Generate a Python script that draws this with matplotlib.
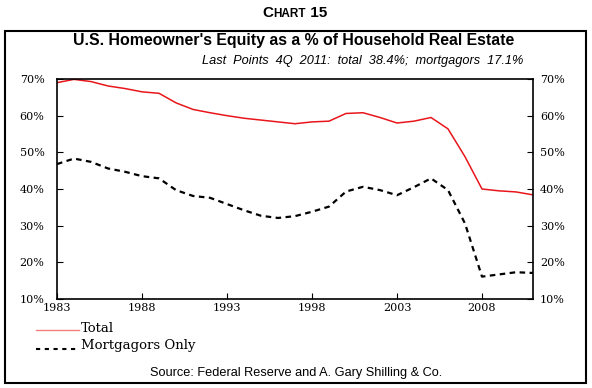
import matplotlib
matplotlib.use("Agg")
import matplotlib.pyplot as plt
from matplotlib.patches import Rectangle
from matplotlib.lines import Line2D
from matplotlib.text import Annotation
from matplotlib.transforms import ScaledTranslation

years = list(range(1983, 2012))
total = [69.0, 69.9, 69.3, 68.1, 67.4, 66.5, 66.1, 63.5, 61.7, 60.8,
         60.0, 59.3, 58.8, 58.3, 57.8, 58.3, 58.5, 60.6, 60.8, 59.5,
         58.0, 58.5, 59.5, 56.4, 48.8, 40.0, 39.5, 39.2, 38.4]
mortgagors = [46.8, 48.3, 47.4, 45.6, 44.7, 43.5, 42.9, 39.7, 38.1, 37.6,
              35.9, 34.2, 32.7, 32.1, 32.6, 33.8, 35.2, 39.3, 40.6, 39.7,
              38.3, 40.5, 42.9, 39.7, 30.6, 16.1, 16.7, 17.3, 17.1]
x_ticks = [1983, 1988, 1993, 1998, 2003, 2008]
y_ticks = [10, 20, 30, 40, 50, 60, 70]

SERIF = "DejaVu Serif"
SANS = "Liberation Sans"

W, H = 592, 388


def fx(px):
    return px / W


def fy(py):
    return 1 - py / H


fig = plt.figure(figsize=(5.92, 3.88), dpi=100)

# outer frame
fig.patches.append(Rectangle((fx(5), fy(383)), 581 / W, 352 / H,
                             transform=fig.transFigure, fill=False,
                             edgecolor="black", linewidth=1.5))

# "CHART 15" in small caps, built from three pieces
c = fig.text(fx(262), fy(20), "C", fontsize=11, fontweight="bold",
             family=SANS, va="bottom", ha="left")
hart = fig.add_artist(Annotation("HART", xy=(1, 0), xycoords=c, va="bottom", ha="left",
                                 fontsize=8.5, fontweight="bold", family=SANS))
fig.add_artist(Annotation(" 15", xy=(1, 0), xycoords=hart, va="bottom", ha="left",
                          fontsize=11, fontweight="bold", family=SANS))

fig.text(fx(294), fy(41), "U.S. Homeowner's Equity as a % of Household Real Estate",
         fontsize=11.4, fontweight="bold", family=SANS, ha="center", va="center")
fig.text(fx(523), fy(61),
         "Last  Points  4Q  2011:  total  38.4%;  mortgagors  17.1%",
         fontsize=9.2, style="italic", family=SANS, ha="right", va="center")

ax = fig.add_axes([fx(57), fy(299), 476 / W, 220 / H])
ax.plot(years, total, color="#e8161b", lw=1.1)
ax.plot(years, mortgagors, color="black", lw=1.6, linestyle=(0, (2.5, 2)))
ax.set_xlim(1983, 2011)
ax.set_ylim(10, 70)
ax.set_xticks(x_ticks)
ax.set_xticklabels([str(x) for x in x_ticks], family=SERIF, fontsize=8)
ax.set_yticks(y_ticks)
ax.set_yticklabels([f"{v}%" for v in y_ticks], family=SERIF, fontsize=8)
for s in ax.spines.values():
    s.set_linewidth(1.2)
ax.tick_params(axis="y", direction="in", length=4, width=0.8, pad=9,
               left=True, right=True, labelleft=True, labelright=True)
ax.tick_params(axis="x", direction="in", length=4, width=0.8, pad=3)
# right-hand labels sit closer to the axis
for t in ax.yaxis.get_major_ticks():
    t.label2.set_fontfamily(SERIF)
    t.label2.set_fontsize(8)
    t.label2.set_transform(t.label2.get_transform() +
                           ScaledTranslation(-4 / 72, 0, fig.dpi_scale_trans))

# legend drawn by hand
fig.add_artist(Line2D([fx(36), fx(79)], [fy(330)] * 2, color="#f08080",
                      lw=1.0, transform=fig.transFigure))
fig.text(fx(81), fy(328), "Total", family=SERIF, fontsize=9.5, va="center")
fig.add_artist(Line2D([fx(36), fx(79)], [fy(349)] * 2, color="black",
                      lw=1.5, linestyle=(0, (2, 2.2)), transform=fig.transFigure))
fig.text(fx(81), fy(346), "Mortgagors Only", family=SERIF, fontsize=9.5, va="center")

fig.text(fx(296), fy(373), "Source: Federal Reserve and A. Gary Shilling & Co.",
         family=SANS, fontsize=9.2, ha="center", va="center")

fig.savefig("out.png", dpi=100)
